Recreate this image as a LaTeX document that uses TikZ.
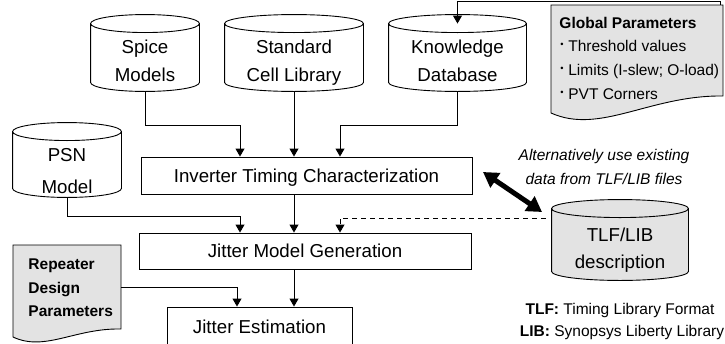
\documentclass[tikz,border=0pt]{standalone}
\usepackage{fontspec}
\setmainfont{Liberation Sans}
\usetikzlibrary{arrows.meta,calc}
\newcommand\drawcyl[2][]{%
  \path[draw,#1] let \p1=(#2.north west), \p2=(#2.south east), \n1={(\x2-\x1)/2} in
    (\x1,\y1-9pt) -- (\x1,\y2+9pt)
    arc[start angle=180, end angle=360, x radius=\n1, y radius=9pt]
    -- (\x2,\y1-9pt)
    arc[start angle=0, end angle=180, x radius=\n1, y radius=9pt] -- cycle
    (\x1,\y1-9pt) arc[start angle=180, end angle=360, x radius=\n1, y radius=9pt];
}
\newcommand\smallbul{\raisebox{0.28em}{\scalebox{0.6}{\textbullet}}\hspace{0.3em}}
\begin{document}
\begin{tikzpicture}[x=1pt,y=-1pt,line width=0.9pt,
  bigtext/.style={font=\fontsize{18.7}{22}\selectfont, inner sep=0pt, text height=13.4pt, text depth=0pt},
  smalltext/.style={font=\fontsize{15.5}{18}\selectfont, inner sep=0pt, text height=11.1pt, text depth=0pt},
  itext/.style={smalltext, font=\fontsize{15.5}{18}\selectfont\itshape},
  stepbox/.style={draw, rectangle, bigtext},
  area/.style={rectangle, inner sep=0pt},
  arr/.style={-{Triangle[length=8pt,width=9pt]}},
  dbl/.style={line width=5pt, {Triangle[length=15pt,width=17pt]}-{Triangle[length=15pt,width=17pt]}},
  docfill/.style={fill=black!11},
  dashline/.style={dash pattern=on 5pt off 4pt}
]
\useasboundingbox (0,0) rectangle (725,343);

% regions
\node[area, minimum width=108pt, minimum height=76pt] (spice) at (145,53) {};
\node[area, minimum width=138pt, minimum height=76pt] (std) at (294,53) {};
\node[area, minimum width=137pt, minimum height=76pt] (kd) at (457.5,53) {};
\node[area, minimum width=108pt, minimum height=74pt] (psn) at (67,160) {};
\node[area, minimum width=136pt, minimum height=80pt] (tlf) at (620,240) {};
\node[area, minimum width=172pt, minimum height=118pt] (glob) at (637,64) {};
\node[area, minimum width=108pt, minimum height=100pt] (rep) at (67,295) {};

% shapes
\drawcyl{spice}
\drawcyl{std}
\drawcyl{kd}
\drawcyl{psn}
\drawcyl[docfill]{tlf}
\draw[docfill] (551,5) -- (723,5) -- (723,96) .. controls (650,95) and (600,135) .. (551,113) -- cycle;
\draw[docfill] (13,245) -- (121,245) -- (121,329) .. controls (75,328) and (45,352) .. (13,337) -- cycle;

% boxes
\node[stepbox, minimum width=331pt, minimum height=37pt] (itc) at (306.5,175.5) {Inverter Timing Characterization};
\node[stepbox, minimum width=332pt, minimum height=36pt] (jmg) at (305,251) {Jitter Model Generation};
\node[stepbox, minimum width=185pt, minimum height=39pt] (je) at (259.5,326.5) {Jitter Estimation};

% cylinder texts
\node[bigtext] (spice1) at (145,46.5) {Spice};
\node[bigtext] (spice2) at (145,75) {Models};
\node[bigtext] (std1) at (294,46.5) {Standard};
\node[bigtext] (std2) at (294,75) {Cell Library};
\node[bigtext] (kd1) at (457.5,46.5) {Knowledge};
\node[bigtext] (kd2) at (457.5,75) {Database};
\node[bigtext] (psn1) at (67,155) {PSN};
\node[bigtext] (psn2) at (67,187) {Model};
\node[bigtext] (tlf1) at (620,234.5) {TLF/LIB};
\node[bigtext] (tlf2) at (620,262) {description};

% document texts
\node[smalltext, anchor=west] (g0) at (559,23) {\textbf{Global Parameters}};
\node[smalltext, anchor=west] (g1) at (560,46) {\smallbul Threshold values};
\node[smalltext, anchor=west] (g2) at (560,70) {\smallbul Limits (I-slew; O-load)};
\node[smalltext, anchor=west] (g3) at (560,94) {\smallbul PVT Corners};
\node[smalltext, anchor=west] (r1) at (28,264) {\textbf{Repeater}};
\node[smalltext, anchor=west] (r2) at (28,287.5) {\textbf{Design}};
\node[smalltext, anchor=west] (r3) at (28,311) {\textbf{Parameters}};

% notes
\node[itext] (alt1) at (604,155) {Alternatively use existing};
\node[itext] (alt2) at (604,179) {data from TLF/LIB files};
\node[smalltext] (n1) at (620,309) {\textbf{TLF:} Timing Library Format};
\node[smalltext] (n2) at (622,331) {\textbf{LIB:} Synopsys Liberty Library};

% connectors
\draw[arr] (spice.south) -- ++(0,34) -| ([xshift=-66.5pt]itc.north);
\draw[arr] (std.south) -- (std.south |- itc.north);
\draw[arr] (kd.south) -- ++(0,34) -| ([xshift=33.5pt]itc.north);
\draw[arr] (itc.south -| std.south) -- (jmg.north -| std.south);
\draw[arr] (psn.south) -- ++(0,19) -| ([xshift=-65pt]jmg.north);
\draw[arr, dashline] ([shift={(-6pt,22pt)}]tlf.west) -| ([xshift=35pt]jmg.north);
\draw[arr] (jmg.south -| std.south) -- (je.north -| std.south);
\draw[arr] ([yshift=8pt]rep.east) -| ([xshift=-22.5pt]je.north);
\draw[arr] ([xshift=83pt]glob.north) -- ++(0,-3) -| ([yshift=-9pt]kd.north);
\coordinate (da) at (483,172);
\coordinate (db) at (542,212);
\draw[dbl] (da) -- (db);
\end{tikzpicture}
\end{document}
